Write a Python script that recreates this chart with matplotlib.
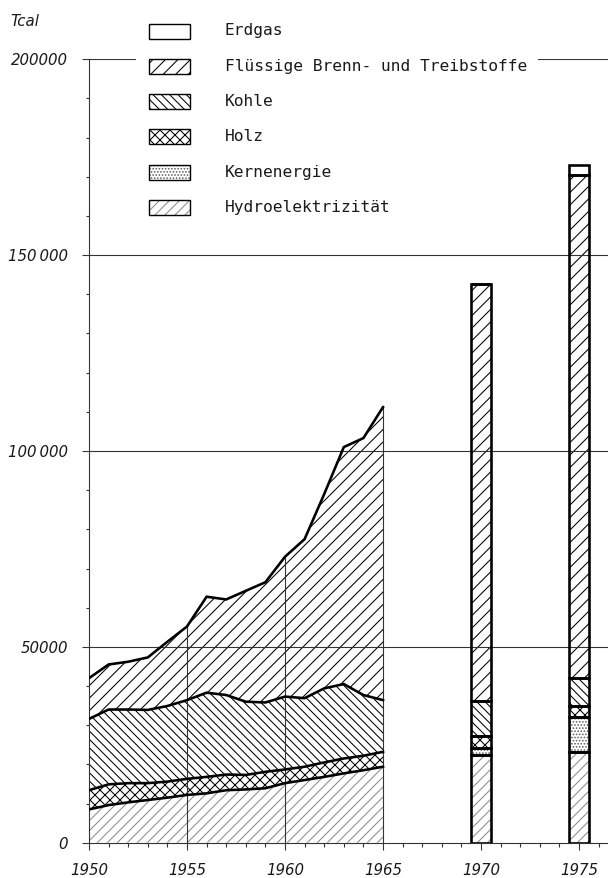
import matplotlib
matplotlib.use('Agg')
import matplotlib.pyplot as plt
from matplotlib.patches import Rectangle
from matplotlib.ticker import MultipleLocator
import numpy as np

# Energieverbrauch Schweiz, Tcal
years = [1950, 1951, 1952, 1953, 1954, 1955, 1956, 1957,
         1958, 1959, 1960, 1961, 1962, 1963, 1964, 1965]
hydro = [8500, 9600, 10300, 10900, 11500, 12200, 12600, 13400,
         13600, 13900, 15200, 16000, 16800, 17700, 18500, 19400]
holz = [4900, 5300, 4900, 4300, 4100, 4100, 4200, 4000,
        3700, 4200, 3500, 3400, 3700, 3800, 3700, 3800]
kohle = [18200, 19100, 18800, 18700, 19300, 20100, 21500, 20300,
         18700, 17700, 18600, 17500, 18900, 19000, 15500, 13200]
fluessig = [10400, 11500, 12200, 13400, 16400, 18800, 24500, 24400,
            28300, 30700, 35700, 40600, 49600, 60500, 65600, 74800]

bar_years = [1970, 1975]
bar_hydro = [22400, 23100]
bar_kern = [1900, 8900]
bar_holz = [3000, 2900]
bar_kohle = [8900, 7100]
bar_fluessig = [106500, 128500]
bar_erdgas = [0, 2500]

legend_labels = ['Erdgas', 'Flüssige Brenn- und Treibstoffe', 'Kohle',
                 'Holz', 'Kernenergie', 'Hydroelektrizität']
ytick_vals = [0, 50000, 100000, 150000, 200000]
ytick_labels = ['0', '50000', '100\u2009000', '150\u2009000', '200000']
xtick_vals = [1950, 1955, 1960, 1965, 1970, 1975]

DPI = 150
W, H = 608, 878
PT = 72.0 / DPI  # points per pixel

plt.rcParams['hatch.linewidth'] = 0.5

# hatch style per energy source
style = {
    'Erdgas': ('', 'black'),
    'Flüssige Brenn- und Treibstoffe': ('////', 'black'),
    'Kohle': ('\\' * 6, 'black'),
    'Holz': ('xxxxx', 'black'),
    'Kernenergie': ('........', '0.35'),
    'Hydroelektrizität': ('/////', '0.55'),
}

fig = plt.figure(figsize=(W / DPI, H / DPI), dpi=DPI)
ax = fig.add_axes([89 / W, 35.3 / H, 519 / W, 783.4 / H])
ax.set_xlim(1950, 1950 + 519 / 19.6)
ax.set_ylim(0, 200000)

thick = 2.6 * PT
thin = 1.1 * PT

# area part 1950-1965
area_layers = [('Hydroelektrizität', hydro), ('Holz', holz),
               ('Kohle', kohle), ('Flüssige Brenn- und Treibstoffe', fluessig)]
cum = np.zeros(len(years))
tops = []
for name, vals in area_layers:
    h, hc = style[name]
    top = cum + np.array(vals)
    ax.fill_between(years, cum, top, facecolor='white', edgecolor=hc,
                    hatch=h, linewidth=0, zorder=2)
    tops.append(top)
    cum = top
for top in tops:
    ax.plot(years, top, color='black', lw=thick, zorder=4,
            solid_joinstyle='miter')
total = cum
vx = [1955, 1960, 1965]
ax.vlines(vx, 0, [total[years.index(v)] for v in vx], color='0.2',
          lw=thin, zorder=3)

# bars 1970 / 1975
bar_layers = [('Hydroelektrizität', bar_hydro), ('Kernenergie', bar_kern),
              ('Holz', bar_holz), ('Kohle', bar_kohle),
              ('Flüssige Brenn- und Treibstoffe', bar_fluessig),
              ('Erdgas', bar_erdgas)]
bw = 1.05
bottom = np.zeros(len(bar_years))
for name, vals in bar_layers:
    h, hc = style[name]
    ax.bar(bar_years, vals, bw, bottom=bottom, facecolor='white',
           edgecolor=hc, hatch=h, linewidth=0, zorder=2)
    ax.bar(bar_years, vals, bw, bottom=bottom, fill=False,
           edgecolor='black', linewidth=thick, zorder=4)
    bottom = bottom + np.array(vals)

# grid lines
for y in ytick_vals[1:]:
    ax.axhline(y, color='0.2', lw=thin, zorder=3)

for s in ['top', 'right']:
    ax.spines[s].set_visible(False)
for s in ['left', 'bottom']:
    ax.spines[s].set_linewidth(thin)
    ax.spines[s].set_color('0.2')

ax.set_xticks(xtick_vals, labels=[str(x) for x in xtick_vals])
ax.xaxis.set_minor_locator(MultipleLocator(1))
ax.set_yticks(ytick_vals, labels=ytick_labels)
ax.yaxis.set_minor_locator(MultipleLocator(10000))
ax.tick_params(axis='x', which='major', length=6.5 * PT, width=thin,
               color='0.2', pad=14 * PT)
ax.tick_params(axis='x', which='minor', length=3.5 * PT, width=thin,
               color='0.2')
ax.tick_params(axis='y', which='major', length=7 * PT, width=thin,
               color='0.2', pad=14 * PT)
ax.tick_params(axis='y', which='minor', length=3 * PT, width=thin,
               color='0.2')
for lab in ax.get_xticklabels() + ax.get_yticklabels():
    lab.set_fontstyle('italic')
    lab.set_fontsize(7.2)
    lab.set_color('0.1')

fig.text(10 / W, 1 - 22 / H, 'Tcal', fontsize=7.2, fontstyle='italic',
         color='0.1', ha='left', va='center')

# legend drawn in its own white box (hides the 200000 line)
legax = fig.add_axes([136 / W, 1 - 225 / H, 402 / W, 210 / H])
legax.set_xlim(0, 402)
legax.set_ylim(210, 0)
legax.set_xticks([])
legax.set_yticks([])
for s in legax.spines.values():
    s.set_visible(False)
legax.set_zorder(5)
for i, name in enumerate(legend_labels):
    yc = 16 + 35.3 * i
    h, hc = style[name]
    legax.add_patch(Rectangle((13, yc - 7.5), 41, 15, facecolor='white',
                              edgecolor=hc, hatch=h, linewidth=0))
    legax.add_patch(Rectangle((13, yc - 7.5), 41, 15, fill=False,
                              edgecolor='black', linewidth=1.4 * PT))
    legax.text(89, yc, name, fontsize=7.8, family='DejaVu Sans Mono',
               color='0.1', ha='left', va='center')

fig.savefig('out.png', dpi=DPI)
